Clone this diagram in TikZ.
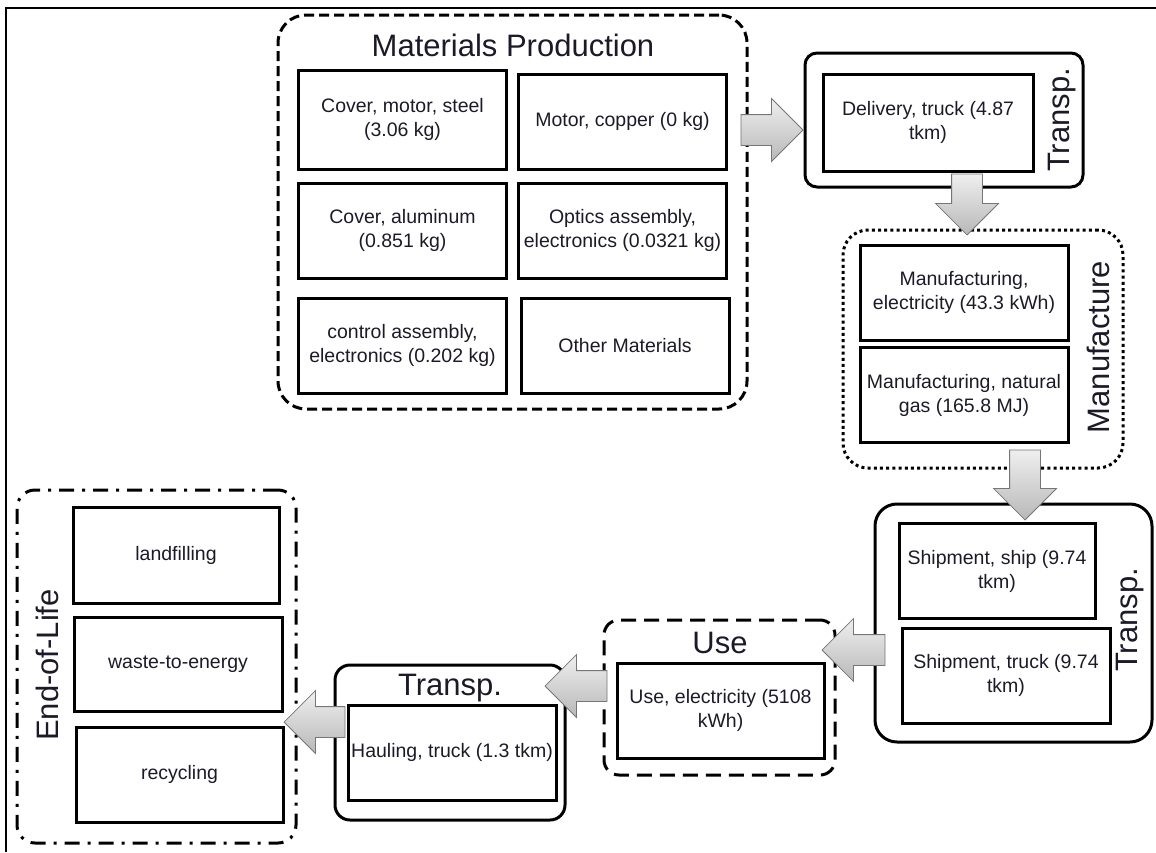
\documentclass[tikz,border=0pt]{standalone}
\usepackage{fontspec}
\setmainfont{Liberation Sans}
\usetikzlibrary{shapes.arrows,calc}
\definecolor{lcaLine}{HTML}{000000}
\definecolor{lcaText}{HTML}{1C1A28}
\definecolor{lcaArrowA}{HTML}{EFEFEF}
\definecolor{lcaArrowB}{HTML}{B8B8B8}
\definecolor{lcaArrowEdge}{HTML}{767676}
\tikzset{
  lcastep/.style={draw=lcaLine,line width=3pt,text=lcaText,align=center,inner sep=2pt,
                  font=\fontsize{19.5}{24}\selectfont,minimum width=208pt,minimum height=95pt},
  lcagroup/.style={draw=lcaLine,line width=3pt,rounded corners=#1,inner sep=0pt},
  lcagroup/.default=15pt,
  lcatitle/.style={font=\fontsize{31}{35}\selectfont,text=lcaText,inner sep=0pt},
  lcaflow/.style={single arrow,draw=lcaArrowEdge,line width=0.8pt,top color=lcaArrowA,bottom color=lcaArrowB,
                  minimum width=62pt,single arrow head extend=16pt,single arrow tip angle=90,inner sep=15pt},
}

\begin{document}
\begin{tikzpicture}[x=1pt,y=-1pt]
  \useasboundingbox (0,0) rectangle (1156,852);
  \draw[line width=2pt] (6,852) -- (6,8) -- (1156,8);

  % materials production
  \node[lcagroup=28pt,dash pattern=on 10pt off 5pt,minimum width=469pt,minimum height=394pt] (mat) at (512.5,212) {};
  \node[lcatitle] (matlbl) at (513,45) {Materials Production};
  \node[lcastep,minimum height=99pt] (steel) at (402.5,119.5) {Cover, motor, steel\\(3.06 kg)};
  \node[lcastep] (copper) at (622.5,121.5) {Motor, copper (0 kg)};
  \node[lcastep] (alu) at (402.5,230.5) {Cover, aluminum\\(0.851 kg)};
  \node[lcastep] (optics) at (622.5,230.5) {Optics assembly,\\electronics (0.0321 kg)};
  \node[lcastep] (control) at (402.5,345.5) {control assembly,\\electronics (0.202 kg)};
  \node[lcastep] (other) at (625,345.5) {Other Materials};

  % delivery
  \node[lcagroup=12pt,minimum width=278pt,minimum height=134pt] (transpA) at (944,120) {};
  \node[lcastep,minimum width=210pt,minimum height=97pt] (delivery) at (928,122.5) {Delivery, truck (4.87\\tkm)};
  \node[lcatitle,rotate=90] (transpAlbl) at (1062,120) {Transp.};

  % manufacture
  \node[lcagroup=25pt,dash pattern=on 3pt off 3.2pt,minimum width=280pt,minimum height=238pt] (mfg) at (983,349) {};
  \node[lcastep] (mfgelec) at (964,292.5) {Manufacturing,\\electricity (43.3 kWh)};
  \node[lcastep] (mfggas) at (964,395) {Manufacturing, natural\\gas (165.8 MJ)};
  \node[lcatitle,rotate=90] (mfglbl) at (1098,347) {Manufacture};

  % shipment
  \node[lcagroup=22pt,minimum width=277pt,minimum height=238pt] (transpB) at (1013.5,623) {};
  \node[lcastep,minimum width=196pt] (ship) at (997,571) {Shipment, ship (9.74\\tkm)};
  \node[lcastep] (truck) at (1006,675.5) {Shipment, truck (9.74\\tkm)};
  \node[lcatitle,rotate=90] (transpBlbl) at (1130,620) {Transp.};

  % use
  \node[lcagroup,dash pattern=on 15pt off 8pt,minimum width=231pt,minimum height=155pt] (use) at (719.5,697.5) {};
  \node[lcatitle] (uselbl) at (720,643) {Use};
  \node[lcastep,minimum width=207pt] (useelec) at (720.5,710.5) {Use, electricity (5108\\kWh)};

  % hauling
  \node[lcagroup,minimum width=230pt,minimum height=155pt] (transpC) at (450,742.5) {};
  \node[lcatitle] (transpClbl) at (450,688) {Transp.};
  \node[lcastep] (hauling) at (452,752.5) {Hauling, truck (1.3 tkm)};

  % end of life
  \node[lcagroup=18pt,dash pattern=on 15pt off 8pt on 3pt off 8pt,minimum width=279pt,minimum height=353pt] (eol) at (156.5,666.5) {};
  \node[lcastep,minimum width=206pt,minimum height=96pt] (landfill) at (176,555) {landfilling};
  \node[lcastep,minimum height=94pt] (wte) at (178,664) {waste-to-energy};
  \node[lcastep,minimum width=207pt] (recycle) at (179.5,774.5) {recycling};
  \node[lcatitle,rotate=90] (eollbl) at (47,665) {End-of-Life};

  % block arrows between the stages
  \node[lcaflow,minimum height=62pt,anchor=tip] (flowA) at (transpA.west |- 0,130) {};
  \node[lcaflow,shape border rotate=270,minimum height=61pt,anchor=tip] (flowB) at ($(mfg.north -| 967,0)+(0,7)$) {};
  \node[lcaflow,shape border rotate=270,minimum height=70pt,anchor=tip] (flowC) at ($(transpB.north -| 1025,0)+(0,18)$) {};
  \node[lcaflow,shape border rotate=180,minimum height=63pt,anchor=tip] (flowD) at ($(use.east |- 0,650)+(-15,0)$) {};
  \node[lcaflow,shape border rotate=180,minimum height=62pt,anchor=tip] (flowE) at ($(transpC.east |- 0,686)+(-22,0)$) {};
  \node[lcaflow,shape border rotate=180,minimum height=61pt,anchor=tip] (flowF) at ($(eol.east |- 0,722)+(-14,0)$) {};
\end{tikzpicture}
\end{document}
